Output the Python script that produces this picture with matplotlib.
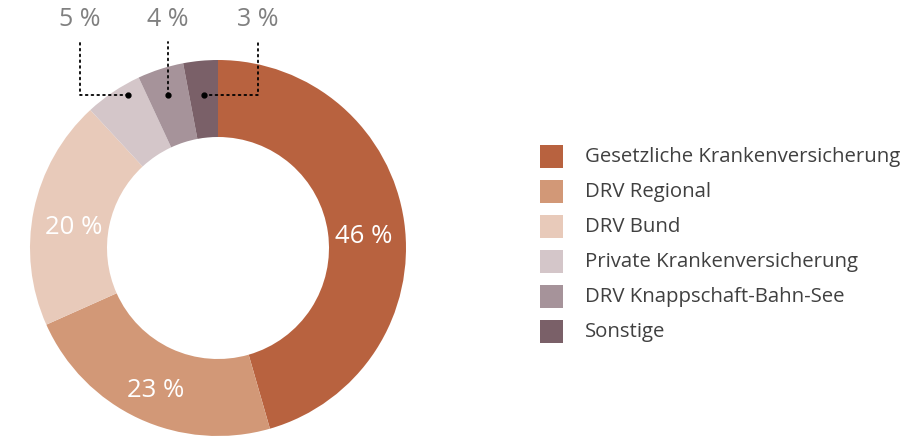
import numpy as np
import matplotlib.pyplot as plt
from matplotlib.patches import Rectangle

plt.rcParams['font.family'] = ['Open Sans', 'DejaVu Sans']

# Data
labels = ['Gesetzliche Krankenversicherung', 'DRV Regional', 'DRV Bund',
          'Private Krankenversicherung', 'DRV Knappschaft-Bahn-See', 'Sonstige']
shares = [46, 23, 20, 5, 4, 3]
colors = ['#B8623F', '#D29877', '#E8CABA', '#D4C6C9', '#A6939A', '#7A6068']

W, H = 919, 436
fig = plt.figure(figsize=(W / 100, H / 100), dpi=100)
ax = fig.add_axes([0, 0, 1, 1])

cx, cy, R, ring = 218, 188, 188, 77
wedges, _ = ax.pie(shares, colors=colors, startangle=90, counterclock=False,
                   radius=R, center=(cx, cy), wedgeprops=dict(width=ring, linewidth=0))
ax.set_xlim(0, W)
ax.set_ylim(0, H)
ax.set_aspect('equal')
ax.axis('off')

# wedge angles (degrees, math convention)
total = sum(shares)
cum = np.cumsum([0] + shares)
ang = [90 - c / total * 360 for c in cum]
mids = [(ang[i] + ang[i + 1]) / 2 for i in range(len(shares))]

# big labels inside the ring
r_lab = R - ring / 2 - 2
for i in range(3):
    a = np.radians(mids[i])
    ax.text(cx + r_lab * np.cos(a), cy + r_lab * np.sin(a) - 9, f'{shares[i]} %',
            ha='center', va='center', color='white', fontsize=18.5)

# small labels with dotted leaders; dots sit on one horizontal line
y_dot = H - 95
h = y_dot - cy
x_edge = cx - np.sqrt(R ** 2 - h ** 2)
label_x = [80, None, 258]
top_y = H - 42
for j, i in enumerate(range(3, 6)):
    xs = [max(cx + h / np.tan(np.radians(t)), x_edge) for t in (ang[i], ang[i + 1])]
    dx = sum(xs) / 2
    lx = label_x[j] if label_x[j] is not None else dx
    ax.plot([dx, lx, lx], [y_dot, y_dot, top_y], color='black', lw=1.3,
            linestyle=(0, (1, 2.2)), dash_capstyle='round')
    ax.plot(dx, y_dot, 'o', color='black', ms=3.5)
    ax.text(lx, H - 20, f'{shares[i]} %', ha='center', va='center',
            color='#808080', fontsize=18)

# legend
y0 = H - 157
for i, (lab, col) in enumerate(zip(labels, colors)):
    y = y0 - i * 35
    ax.add_patch(Rectangle((540, y - 11.5), 23, 23, facecolor=col, edgecolor='none'))
    ax.text(585, y, lab, ha='left', va='center', color='#404040', fontsize=14.7)

fig.savefig('out.png', dpi=100)
